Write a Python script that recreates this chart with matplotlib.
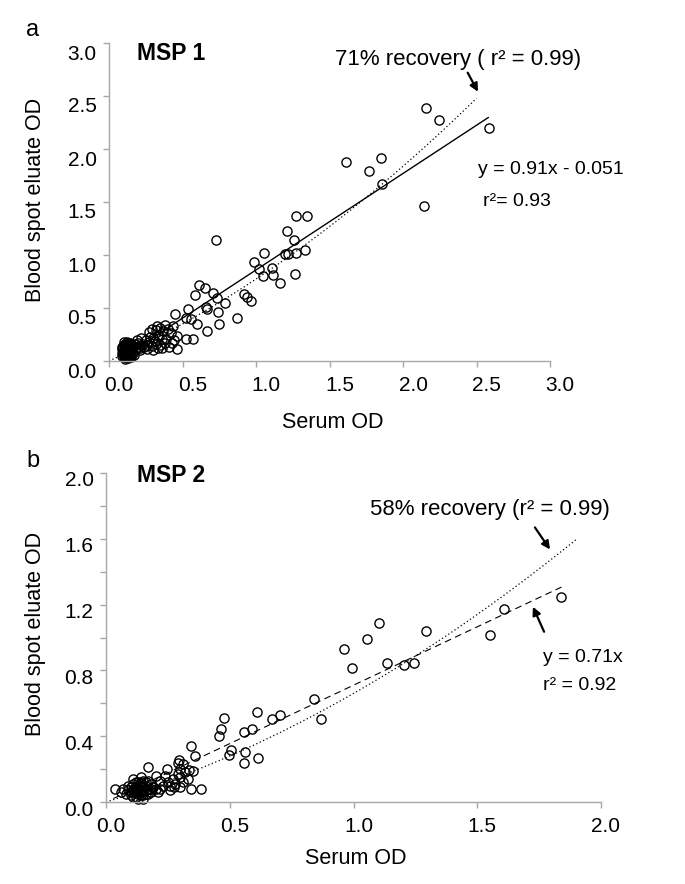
import matplotlib
matplotlib.use("Agg")
import matplotlib.pyplot as plt
import matplotlib.transforms as mtransforms
import numpy as np

plt.rcParams['font.family'] = ['Liberation Sans', 'DejaVu Sans']

# ---------------- data: panel a (MSP 1) ----------------
msp1_serum = [2.157, 2.243, 2.587, 1.612, 1.85, 1.767, 1.855, 2.143, 1.349, 1.272,
              1.331, 0.728, 1.211, 1.259, 1.197, 1.22, 1.272, 1.054, 0.989, 1.023,
              1.111, 1.05, 1.113, 1.166, 1.268, 0.61, 0.655, 0.705, 0.585, 0.918,
              0.937, 0.737, 0.964, 0.789, 0.66, 0.667, 0.744, 0.869, 0.75, 0.54,
              0.451, 0.524, 0.555, 0.596, 0.665, 0.524, 0.574, 0.465,
              0.324, 0.381, 0.437, 0.32, 0.35, 0.40, 0.38, 0.36, 0.32, 0.30,
              0.20, 0.23, 0.26, 0.29, 0.25, 0.28, 0.33, 0.42, 0.44, 0.36,
              0.30, 0.41, 0.27, 0.22, 0.31, 0.34, 0.37, 0.24, 0.21, 0.27,
              0.35, 0.39, 0.29, 0.43, 0.46, 0.19, 0.26, 0.33,
              0.09, 0.10, 0.11, 0.12, 0.09, 0.10, 0.11, 0.12, 0.13, 0.14,
              0.10, 0.11, 0.12, 0.09, 0.13, 0.15, 0.14, 0.16, 0.17, 0.15,
              0.18, 0.19, 0.10, 0.12, 0.13, 0.11, 0.16, 0.18, 0.20, 0.21,
              0.17, 0.14, 0.22, 0.10, 0.12, 0.10, 0.11, 0.12, 0.13, 0.11,
              0.12, 0.10, 0.13, 0.14, 0.11, 0.12, 0.15, 0.09, 0.10, 0.14,
              0.13, 0.12, 0.11, 0.16, 0.15]
msp1_blood = [2.39, 2.27, 2.20, 1.88, 1.915, 1.79, 1.667, 1.465, 1.371, 1.371,
              1.044, 1.139, 1.229, 1.142, 1.009, 1.009, 1.016, 1.016, 0.931, 0.865,
              0.880, 0.80, 0.81, 0.736, 0.824, 0.717, 0.686, 0.639, 0.623, 0.632,
              0.60, 0.59, 0.569, 0.55, 0.512, 0.487, 0.465, 0.403, 0.349, 0.488,
              0.443, 0.403, 0.40, 0.349, 0.286, 0.205, 0.207, 0.11,
              0.33, 0.34, 0.33, 0.29, 0.31, 0.30, 0.17, 0.21, 0.16, 0.22,
              0.17, 0.16, 0.15, 0.14, 0.20, 0.23, 0.25, 0.26, 0.20, 0.12,
              0.10, 0.13, 0.27, 0.22, 0.19, 0.24, 0.28, 0.13, 0.12, 0.18,
              0.15, 0.21, 0.30, 0.17, 0.24, 0.20, 0.11, 0.12,
              0.05, 0.06, 0.05, 0.07, 0.08, 0.09, 0.10, 0.11, 0.09, 0.08,
              0.12, 0.13, 0.14, 0.11, 0.12, 0.10, 0.13, 0.12, 0.14, 0.15,
              0.16, 0.12, 0.15, 0.16, 0.05, 0.04, 0.08, 0.10, 0.13, 0.10,
              0.06, 0.17, 0.15, 0.07, 0.03, 0.04, 0.07, 0.09, 0.07, 0.02,
              0.05, 0.10, 0.15, 0.11, 0.16, 0.18, 0.06, 0.13, 0.18, 0.05,
              0.03, 0.08, 0.12, 0.14, 0.04]

# linear fit y = 0.91x - 0.051 and recovery curve (quadratic through origin)
msp1_fit_slope, msp1_fit_int = 0.91, -0.051
msp1_fit_range = [0.08, 2.58]
msp1_rec_coef = [0.627, 0.1458]   # y = a*x + b*x^2
msp1_rec_range = [0.0, 2.5]

# ---------------- data: panel b (MSP 2) ----------------
msp2_serum = [1.838, 1.61, 1.552, 1.293, 1.102, 1.053, 0.962, 0.993, 1.134, 1.205,
              1.244, 0.84, 0.869, 0.609, 0.477, 0.463, 0.457, 0.558, 0.589, 0.672,
              0.704, 0.505, 0.497, 0.563, 0.559, 0.616, 0.343, 0.36, 0.296, 0.29,
              0.31, 0.337, 0.383, 0.343, 0.299, 0.274, 0.245, 0.168, 0.036,
              0.27, 0.30, 0.33, 0.29, 0.31, 0.25, 0.22, 0.20, 0.23, 0.26, 0.21,
              0.28, 0.32, 0.24, 0.19, 0.35, 0.30, 0.26, 0.22,
              0.08, 0.09, 0.10, 0.11, 0.12, 0.13, 0.10, 0.11, 0.12, 0.13,
              0.14, 0.15, 0.14, 0.16, 0.17, 0.15, 0.18, 0.19, 0.12, 0.16,
              0.09, 0.13, 0.17, 0.20, 0.11, 0.14, 0.06, 0.07, 0.18, 0.15,
              0.12, 0.13, 0.14, 0.11, 0.12, 0.15, 0.16, 0.13, 0.10, 0.14,
              0.17, 0.12, 0.15, 0.11, 0.13, 0.16, 0.18, 0.14]
msp2_blood = [1.246, 1.173, 1.016, 1.037, 1.088, 0.99, 0.929, 0.817, 0.848, 0.834,
              0.844, 0.628, 0.502, 0.549, 0.508, 0.441, 0.403, 0.427, 0.441, 0.502,
              0.529, 0.315, 0.285, 0.305, 0.238, 0.266, 0.34, 0.279, 0.254, 0.24,
              0.23, 0.193, 0.077, 0.082, 0.091, 0.09, 0.198, 0.21, 0.076,
              0.14, 0.15, 0.14, 0.17, 0.12, 0.12, 0.13, 0.16, 0.10, 0.07, 0.06,
              0.11, 0.18, 0.16, 0.09, 0.19, 0.20, 0.10, 0.08,
              0.05, 0.07, 0.04, 0.06, 0.08, 0.05, 0.09, 0.11, 0.10, 0.12,
              0.09, 0.07, 0.04, 0.10, 0.08, 0.13, 0.11, 0.09, 0.03, 0.05,
              0.10, 0.02, 0.13, 0.08, 0.14, 0.15, 0.06, 0.08, 0.06, 0.02,
              0.06, 0.08, 0.06, 0.08, 0.12, 0.10, 0.07, 0.10, 0.06, 0.12,
              0.05, 0.09, 0.04, 0.03, 0.07, 0.12, 0.08, 0.11]

msp2_fit_slope = 0.71
msp2_fit_range = [0.03, 1.84]
msp2_rec_coef = [0.46, 0.20]
msp2_rec_range = [0.0, 1.9]

W, H = 685, 884
fig = plt.figure(figsize=(W / 100, H / 100), dpi=100)


def px_axes(l, r, t, b):
    return fig.add_axes([l / W, 1 - b / H, (r - l) / W, (b - t) / H])


def ftext(x, y, s, **kw):
    fig.text(x / W, 1 - y / H, s, **kw)


def style_axes(ax, xdx, ydy):
    for side in ('top', 'right'):
        ax.spines[side].set_visible(False)
    for side in ('left', 'bottom'):
        ax.spines[side].set_color('#a8a8a8')
        ax.spines[side].set_linewidth(1.0)
    ax.tick_params(which='both', direction='out', color='#a8a8a8', width=1.0,
                   labelsize=15, labelcolor='black')
    ax.tick_params(which='major', length=4)
    ax.tick_params(which='minor', length=4)
    ax.tick_params(axis='x', pad=7)
    ax.tick_params(axis='y', pad=5)
    offx = mtransforms.ScaledTranslation(xdx / 100, 0, fig.dpi_scale_trans)
    offy = mtransforms.ScaledTranslation(0, -ydy / 100, fig.dpi_scale_trans)
    for lab in ax.get_xticklabels():
        lab.set_transform(lab.get_transform() + offx)
    for lab in ax.get_yticklabels():
        lab.set_transform(lab.get_transform() + offy)


mk = dict(marker='o', linestyle='none', markersize=6.6, markerfacecolor='none',
          markeredgecolor='black', markeredgewidth=1.0, clip_on=False)
arrow_kw = dict(arrowstyle='-|>', color='black', lw=1.6, mutation_scale=12,
                shrinkA=0, shrinkB=0)

# ---------------- panel a ----------------
ax1 = px_axes(109, 550, 43, 361)
ax1.plot(msp1_serum, msp1_blood, **mk)
xs = np.linspace(msp1_fit_range[0], msp1_fit_range[1], 2)
ax1.plot(xs, msp1_fit_slope * xs + msp1_fit_int, color='black', lw=1.0)
xr = np.linspace(msp1_rec_range[0], msp1_rec_range[1], 100)
ax1.plot(xr, msp1_rec_coef[0] * xr + msp1_rec_coef[1] * xr ** 2, color='black',
         lw=0.9, linestyle=(0, (1, 2)))
ax1.set_xlim(0, 3)
ax1.set_ylim(0, 3)
ax1.set_xticks(np.arange(0, 3.01, 0.5))
ax1.set_yticks(np.arange(0, 3.01, 0.5))
ax1.set_xticklabels(['0.0', '0.5', '1.0', '1.5', '2.0', '2.5', '3.0'])
ax1.set_yticklabels(['0.0', '0.5', '1.0', '1.5', '2.0', '2.5', '3.0'])
style_axes(ax1, 10, 9)
ax1.annotate('', xy=(2.51, 2.54), xytext=(2.44, 2.72), arrowprops=arrow_kw)

# ---------------- panel b ----------------
ax2 = px_axes(106, 601, 473, 802)
ax2.plot(msp2_serum, msp2_blood, **mk)
xs = np.linspace(msp2_fit_range[0], msp2_fit_range[1], 2)
ax2.plot(xs, msp2_fit_slope * xs, color='black', lw=0.8, linestyle=(0, (6, 4)))
xr = np.linspace(msp2_rec_range[0], msp2_rec_range[1], 100)
ax2.plot(xr, msp2_rec_coef[0] * xr + msp2_rec_coef[1] * xr ** 2, color='black',
         lw=0.9, linestyle=(0, (1, 2)))
ax2.set_xlim(0, 2)
ax2.set_ylim(0, 2)
ax2.set_xticks(np.arange(0, 2.01, 0.5))
ax2.set_xticklabels(['0.0', '0.5', '1.0', '1.5', '2.0'])
ax2.set_yticks(np.arange(0, 2.01, 0.4))
ax2.set_yticklabels(['0.0', '0.4', '0.8', '1.2', '1.6', '2.0'])
ax2.set_yticks(np.arange(0.2, 2.0, 0.4), minor=True)
style_axes(ax2, 5, 6)
ax2.annotate('', xy=(1.794, 1.535), xytext=(1.733, 1.669), arrowprops=arrow_kw)
ax2.annotate('', xy=(1.725, 1.187), xytext=(1.770, 1.035), arrowprops=arrow_kw)

# ---------------- texts ----------------
ftext(33, 30, 'a', fontsize=17, ha='center', va='center')
ftext(33, 461, 'b', fontsize=17, ha='center', va='center')
ftext(137, 53, 'MSP 1', fontsize=16.5, fontweight='bold', ha='left', va='center')
ftext(137, 475, 'MSP 2', fontsize=16.5, fontweight='bold', ha='left', va='center')

ftext(458, 59, '71% recovery ( r² = 0.99)', fontsize=16, ha='center', va='center')
ftext(478, 169, 'y = 0.91x - 0.051', fontsize=14, ha='left', va='center')
ftext(483, 202, 'r²= 0.93', fontsize=14, ha='left', va='center')

ftext(490, 510, '58% recovery (r² = 0.99)', fontsize=16, ha='center', va='center')
ftext(543, 658, 'y = 0.71x', fontsize=14, ha='left', va='center')
ftext(543, 686, 'r² = 0.92', fontsize=14, ha='left', va='center')

ftext(36, 200, 'Blood spot eluate OD', fontsize=15.5, rotation=90, ha='center', va='center')
ftext(36, 634, 'Blood spot eluate OD', fontsize=15.5, rotation=90, ha='center', va='center')
ftext(333, 422, 'Serum OD', fontsize=15.5, ha='center', va='center')
ftext(356, 858, 'Serum OD', fontsize=15.5, ha='center', va='center')

fig.savefig('out.png', dpi=100)
